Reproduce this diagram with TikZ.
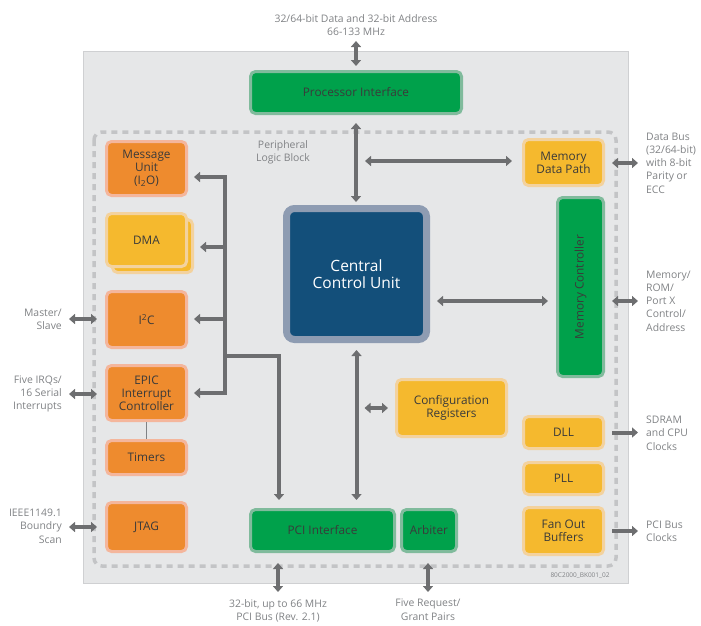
\documentclass[tikz,border=0pt]{standalone}
\usepackage{fontspec}
\setmainfont{Open Sans}
\usetikzlibrary{arrows.meta,positioning}
\definecolor{chipbg}{HTML}{E6E7E8}
\definecolor{chipedge}{HTML}{CFD0D2}
\definecolor{dashgray}{HTML}{C3C4C6}
\definecolor{arrgray}{HTML}{6D6E70}
\definecolor{lblgray}{HTML}{808285}
\definecolor{boxtext}{HTML}{3A3A3A}
\definecolor{orng}{HTML}{EE8B2E}
\definecolor{orngrim}{HTML}{F4B69C}
\definecolor{yelw}{HTML}{F5B92E}
\definecolor{yelwrim}{HTML}{F3D29E}
\definecolor{grn}{HTML}{00A14B}
\definecolor{grnrim}{HTML}{80BB9C}
\definecolor{ccublue}{HTML}{134F7A}
\definecolor{ccurim}{HTML}{8E9CB2}

\begin{document}
\begin{tikzpicture}
  [x=1pt,y=-1pt,
   blk/.style={rectangle,rounded corners=5pt,line width=3pt,align=center,
     text=boxtext,inner sep=2pt,font=\fontsize{11.8}{13}\selectfont},
   orangeN/.style={blk,fill=orng,draw=orngrim},
   yellowN/.style={blk,fill=yelw,draw=yelwrim},
   greenN/.style={blk,fill=grn,draw=grnrim},
   lblN/.style={align=center,text=lblgray,inner sep=0pt,
     font=\fontsize{10.4}{13.3}\selectfont},
   busL/.style={draw=arrgray,line width=4pt},
   arr/.style={busL,-{Triangle[length=6pt,width=10pt]}},
   dblarr/.style={busL,{Triangle[length=6pt,width=10pt]}-{Triangle[length=6pt,width=10pt]}}]

  \useasboundingbox (0,0) rectangle (701,625);

  % chip and peripheral block
  \draw[fill=chipbg,draw=chipedge,line width=1pt] (83,51) rectangle (628,583);
  \draw[draw=dashgray,line width=3.5pt,dash pattern=on 6pt off 5pt,rounded corners=8pt]
    (94,132) rectangle (616,566);

  % blocks
  \node[greenN,minimum width=211pt,minimum height=42pt] (proc) at (356,92.5) {Processor Interface};
  \node[yellowN,minimum width=80pt,minimum height=46pt] (mdp) at (563.5,162.5) {Memory\\Data Path};
  \node[greenN,minimum width=46pt,minimum height=179pt] (memc) at (580.5,287) {};
  \node[rotate=90,text=boxtext,font=\fontsize{11.8}{13}\selectfont] (memcT) at (memc) {Memory Controller};
  \node[blk,fill=ccublue,draw=ccurim,line width=7pt,rounded corners=8pt,
    minimum width=140pt,minimum height=131pt,text=white,
    font=\fontsize{15.5}{16.5}\selectfont] (ccu) at (356.5,274) {Central\\Control Unit};

  \node[orangeN,minimum width=80pt,minimum height=54pt] (msg) at (146.5,168.5) {Message\\Unit\\(I\textsubscript{2}O)};
  \node[yellowN,minimum width=80pt,minimum height=53pt] (dmaS) at (152.5,246) {};
  \node[yellowN,minimum width=80pt,minimum height=53pt] (dma) at (146.5,240) {DMA};
  \node[orangeN,minimum width=80pt,minimum height=56pt] (i2c) at (146.5,319.5) {I\textsuperscript{2}C};
  \node[orangeN,minimum width=80pt,minimum height=55pt] (epic) at (146.5,393) {EPIC\\Interrupt\\Controller};
  \node[orangeN,minimum width=80pt,minimum height=34pt] (tmr) at (146.5,457.5) {Timers};
  \node[orangeN,minimum width=80pt,minimum height=49pt] (jtag) at (146.5,527) {JTAG};

  \node[yellowN,minimum width=110pt,minimum height=57pt] (cfg) at (451.5,408) {Configuration\\Registers};
  \node[greenN,minimum width=144pt,minimum height=42pt] (pci) at (322.5,530.5) {PCI Interface};
  \node[greenN,minimum width=55pt,minimum height=42pt] (arb) at (429,530.5) {Arbiter};
  \node[yellowN,minimum width=80pt,minimum height=32pt] (dll) at (563.5,432.5) {DLL};
  \node[yellowN,minimum width=80pt,minimum height=32pt] (pll) at (563.5,478.5) {PLL};
  \node[yellowN,minimum width=80pt,minimum height=47pt] (fan) at (563.5,531) {Fan Out\\Buffers};

  \draw[draw=lblgray,line width=1.2pt] (epic.south) -- (tmr.north);

  % labels
  \node[lblN,anchor=south] (topL) at (356,36) {32/64-bit Data and 32-bit Address\\66-133 MHz};
  \node[lblN] (perL) at (283,152) {Peripheral\\Logic Block};
  \node[lblN,align=right,anchor=east] (msL) at (62,319) {Master/\\Slave};
  \node[lblN,align=right,anchor=east] (irqL) at (62,394) {Five IRQs/\\16 Serial\\Interrupts};
  \node[lblN,align=right,anchor=east] (jtL) at (62,526) {IEEE1149.1\\Boundry\\Scan};
  \node[lblN,align=left,anchor=west] (dbusL) at (646,163) {Data Bus\\(32/64-bit)\\with 8-bit\\Parity or\\ECC};
  \node[lblN,align=left,anchor=west] (memL) at (646,301) {Memory/\\ROM/\\Port X\\Control/\\Address};
  \node[lblN,align=left,anchor=west] (clkL) at (646,433) {SDRAM\\and CPU\\Clocks};
  \node[lblN,align=left,anchor=west] (pciclkL) at (646,531) {PCI Bus\\Clocks};
  \node[lblN,anchor=north] (pcibusL) at (278,599) {32-bit, up to 66 MHz\\PCI Bus (Rev. 2.1)};
  \node[lblN,anchor=north] (reqL) at (428,599) {Five Request/\\Grant Pairs};
  \node[lblN,font=\fontsize{6.5}{7}\selectfont] (docL) at (580,576) {80C2000\_BK001\_02};

  % internal bus
  \coordinate (b1) at (225,177);
  \coordinate (b2) at (225,247);
  \coordinate (b3) at (225,319);
  \coordinate (b4) at (225,393);
  \coordinate (bp) at (225,356);
  \coordinate (pj) at (279,356);
  \coordinate (vj) at (356,161);
  \coordinate (memcA) at ([yshift=-14pt]memc.west);

  \draw[dblarr,shorten <=6pt,shorten >=6pt] (msg.east |- b1) -- (b1) -- (b4) -- (epic.east |- b4);
  \draw[arr,shorten >=6pt] (b2) -- (dmaS.east |- b2);
  \draw[arr,shorten >=6pt] (b3) -- (i2c.east |- b3);
  \draw[arr,shorten >=8pt] (bp) -| (pci.north -| pj);

  % main arrows
  \draw[dblarr,shorten <=5pt,shorten >=4pt] (topL.south) -- (proc.north);
  \draw[dblarr,shorten <=8pt,shorten >=3pt] (proc.south) -- (proc.south |- ccu.north);
  \draw[dblarr,shorten <=9pt,shorten >=10pt] (vj) -- (mdp.west |- vj);
  \draw[dblarr,shorten <=7pt,shorten >=8pt] (ccu.east |- memcA) -- (memcA);
  \draw[dblarr,shorten <=7pt,shorten >=8pt] (ccu.south) -- (ccu.south |- pci.north);
  \draw[dblarr,shorten <=8pt,shorten >=7pt] (ccu.south |- cfg.west) -- (cfg.west);

  % pins
  \draw[dblarr,shorten <=7pt,shorten >=8pt] (msL.east) -- (i2c.west |- msL.east);
  \draw[dblarr,shorten <=7pt,shorten >=8pt] (irqL.east) -- (epic.west |- irqL.east);
  \draw[dblarr,shorten <=7pt,shorten >=8pt] (jtL.east |- jtag.west) -- (jtag.west);
  \draw[dblarr,shorten <=7pt,shorten >=8pt] (mdp.east |- dbusL.west) -- (dbusL.west);
  \draw[dblarr,shorten <=7pt,shorten >=8pt] (memc.east |- memL.west) -- (memL.west);
  \draw[arr,shorten <=7pt,shorten >=8pt] (dll.east) -- (dll.east -| clkL.west);
  \draw[arr,shorten <=7pt,shorten >=8pt] (fan.east) -- (fan.east -| pciclkL.west);
  \draw[dblarr,shorten <=10pt,shorten >=7pt] (pci.south -| pcibusL.north) -- (pcibusL.north);
  \draw[dblarr,shorten <=10pt,shorten >=7pt] (arb.south -| reqL.north) -- (reqL.north);
\end{tikzpicture}
\end{document}
